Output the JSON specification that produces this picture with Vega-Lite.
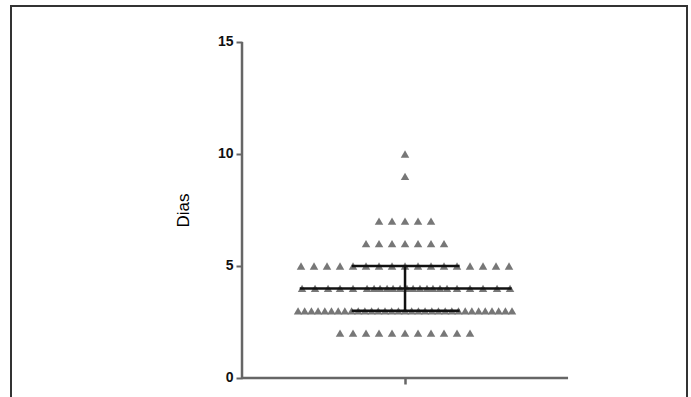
{
  "$schema": "https://vega.github.io/schema/vega-lite/v6.json",
  "width": 676,
  "height": 400,
  "autosize": {"type": "none"},
  "padding": {"left": 11, "top": 6, "right": 4, "bottom": 0},
  "background": "white",
  "config": {
    "view": {"stroke": "#333", "strokeWidth": 2},
    "font": "Liberation Sans"
  },
  "datasets": {
    "points": [
      {"dias": 10, "pos": 0},
      {"dias": 9, "pos": 0},
      {"dias": 7, "pos": -2}, {"dias": 7, "pos": -1}, {"dias": 7, "pos": 0}, {"dias": 7, "pos": 1}, {"dias": 7, "pos": 2},
      {"dias": 6, "pos": -3}, {"dias": 6, "pos": -2}, {"dias": 6, "pos": -1}, {"dias": 6, "pos": 0}, {"dias": 6, "pos": 1}, {"dias": 6, "pos": 2}, {"dias": 6, "pos": 3},
      {"dias": 5, "pos": -8}, {"dias": 5, "pos": -7}, {"dias": 5, "pos": -6}, {"dias": 5, "pos": -5}, {"dias": 5, "pos": -4}, {"dias": 5, "pos": -3}, {"dias": 5, "pos": -2}, {"dias": 5, "pos": -1}, {"dias": 5, "pos": 0}, {"dias": 5, "pos": 1}, {"dias": 5, "pos": 2}, {"dias": 5, "pos": 3}, {"dias": 5, "pos": 4}, {"dias": 5, "pos": 5}, {"dias": 5, "pos": 6}, {"dias": 5, "pos": 7}, {"dias": 5, "pos": 8},
      {"dias": 4, "pos": -7.92}, {"dias": 4, "pos": -6.92}, {"dias": 4, "pos": -5.92}, {"dias": 4, "pos": -5}, {"dias": 4, "pos": -4}, {"dias": 4, "pos": -2.92}, {"dias": 4, "pos": -2.38}, {"dias": 4, "pos": -1.92}, {"dias": 4, "pos": -1.38}, {"dias": 4, "pos": -0.92}, {"dias": 4, "pos": -0.38}, {"dias": 4, "pos": 0.15}, {"dias": 4, "pos": 0.62}, {"dias": 4, "pos": 1.15}, {"dias": 4, "pos": 1.69}, {"dias": 4, "pos": 2.15}, {"dias": 4, "pos": 2.69}, {"dias": 4, "pos": 3.23}, {"dias": 4, "pos": 4}, {"dias": 4, "pos": 5}, {"dias": 4, "pos": 6}, {"dias": 4, "pos": 7.08}, {"dias": 4, "pos": 8.08},
      {"dias": 3, "pos": -8.23}, {"dias": 3, "pos": -7.72}, {"dias": 3, "pos": -7.2}, {"dias": 3, "pos": -6.69}, {"dias": 3, "pos": -6.17}, {"dias": 3, "pos": -5.66}, {"dias": 3, "pos": -5.14}, {"dias": 3, "pos": -4.63}, {"dias": 3, "pos": -4.11}, {"dias": 3, "pos": -3.6}, {"dias": 3, "pos": -3.09}, {"dias": 3, "pos": -2.57}, {"dias": 3, "pos": -2.06}, {"dias": 3, "pos": -1.54}, {"dias": 3, "pos": -1.03}, {"dias": 3, "pos": -0.51}, {"dias": 3, "pos": 0}, {"dias": 3, "pos": 0.51}, {"dias": 3, "pos": 1.03}, {"dias": 3, "pos": 1.54}, {"dias": 3, "pos": 2.06}, {"dias": 3, "pos": 2.57}, {"dias": 3, "pos": 3.09}, {"dias": 3, "pos": 3.6}, {"dias": 3, "pos": 4.11}, {"dias": 3, "pos": 4.63}, {"dias": 3, "pos": 5.14}, {"dias": 3, "pos": 5.66}, {"dias": 3, "pos": 6.17}, {"dias": 3, "pos": 6.69}, {"dias": 3, "pos": 7.2}, {"dias": 3, "pos": 7.72}, {"dias": 3, "pos": 8.23},
      {"dias": 2, "pos": -5}, {"dias": 2, "pos": -4}, {"dias": 2, "pos": -3}, {"dias": 2, "pos": -2}, {"dias": 2, "pos": -1}, {"dias": 2, "pos": 0}, {"dias": 2, "pos": 1}, {"dias": 2, "pos": 2}, {"dias": 2, "pos": 3}, {"dias": 2, "pos": 4}, {"dias": 2, "pos": 5}
    ],
    "axislines": [
      {"pos": -12.54, "pos2": 12.54, "dias": 0, "dias2": 0},
      {"pos": -12.54, "pos2": -12.54, "dias": 0, "dias2": 15}
    ],
    "summary": [
      {"pos": -4.1, "pos2": 4.2, "dias": 5, "dias2": 5},
      {"pos": -8.1, "pos2": 8.2, "dias": 4, "dias2": 4},
      {"pos": -4.1, "pos2": 4.2, "dias": 3, "dias2": 3},
      {"pos": 0, "pos2": 0, "dias": 3, "dias2": 5}
    ]
  },
  "layer": [
    {
      "data": {"name": "axislines"},
      "mark": {"type": "rule", "color": "#666", "strokeWidth": 2.5},
      "encoding": {
        "x": {
          "field": "pos", "type": "quantitative",
          "scale": {"domain": [-30.31, 21.69], "nice": false, "zero": false},
          "axis": {"orient": "bottom", "offset": -28, "values": [0], "labels": false, "domain": false, "grid": false, "ticks": true, "tickSize": 6, "tickWidth": 2.5, "tickColor": "#666", "title": null}
        },
        "x2": {"field": "pos2"},
        "y": {
          "field": "dias", "type": "quantitative",
          "scale": {"domain": [-1.25, 16.607], "nice": false, "zero": false},
          "axis": {
            "orient": "left", "offset": -231, "values": [0, 5, 10, 15], "domain": false, "grid": false,
            "tickSize": 6, "tickWidth": 2, "tickColor": "#666",
            "labelFont": "Liberation Sans", "labelFontSize": 14, "labelFontWeight": "bold", "labelColor": "#111", "labelPadding": 3,
            "title": "Dias", "titleFont": "Liberation Sans", "titleFontSize": 17, "titleFontWeight": "normal", "titleColor": "#000",
            "titleX": -59, "titleY": 204, "titleAngle": -90, "titleAlign": "center", "titleBaseline": "middle"
          }
        },
        "y2": {"field": "dias2"}
      }
    },
    {
      "data": {"name": "points"},
      "mark": {"type": "point", "shape": "triangle-up", "filled": true, "color": "#777777", "opacity": 1, "size": 72},
      "encoding": {
        "x": {"field": "pos", "type": "quantitative"},
        "y": {"field": "dias", "type": "quantitative"}
      }
    },
    {
      "data": {"name": "summary"},
      "mark": {"type": "rule", "color": "#111", "strokeWidth": 2.5},
      "encoding": {
        "x": {"field": "pos", "type": "quantitative"},
        "x2": {"field": "pos2"},
        "y": {"field": "dias", "type": "quantitative"},
        "y2": {"field": "dias2"}
      }
    }
  ]
}
